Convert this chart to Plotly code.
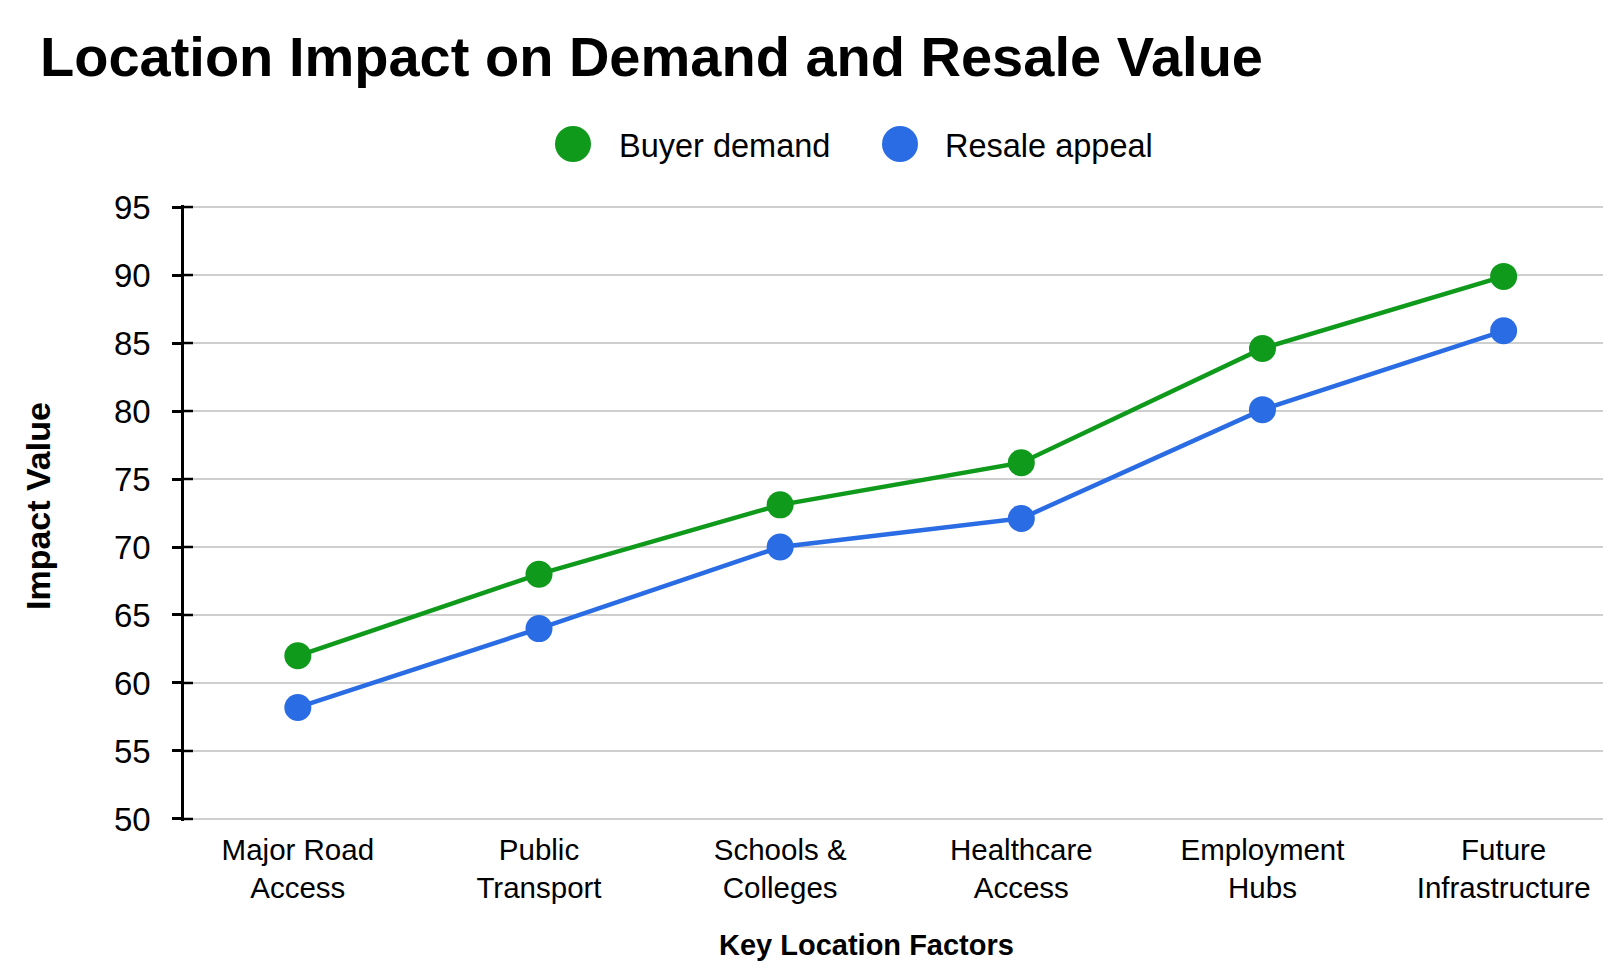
import plotly.graph_objects as go

categories = ["Major Road<br>Access", "Public<br>Transport", "Schools &<br>Colleges",
              "Healthcare<br>Access", "Employment<br>Hubs", "Future<br>Infrastructure"]
buyer_demand = [62.0, 68.0, 73.1, 76.2, 84.6, 89.9]
resale_appeal = [58.2, 64.0, 70.0, 72.1, 80.1, 85.9]
y_ticks = [50, 55, 60, 65, 70, 75, 80, 85, 90, 95]

GREEN = "#0f9a1c"
BLUE = "#2a6ce3"
FONT = "Liberation Sans, Arial, sans-serif"

W, H = 1624, 969
L, R, T, B = 184, 21, 205, 148
PW, PH = W - L - R, H - T - B

def px(x):
    return (x - L) / PW

def py(y):
    return (H - B - y) / PH

xs = list(range(len(categories)))

fig = go.Figure()
fig.add_trace(go.Scatter(x=xs, y=buyer_demand, mode="lines+markers", name="Buyer demand",
                         line=dict(color=GREEN, width=4.5),
                         marker=dict(color=GREEN, size=27), showlegend=False))
fig.add_trace(go.Scatter(x=xs, y=resale_appeal, mode="lines+markers", name="Resale appeal",
                         line=dict(color=BLUE, width=4.5),
                         marker=dict(color=BLUE, size=27), showlegend=False))

fig.update_layout(
    width=W, height=H,
    margin=dict(l=L, r=R, t=T, b=B),
    paper_bgcolor="white", plot_bgcolor="white",
    font=dict(family=FONT, color="black"),
    showlegend=False,
    xaxis=dict(range=[-0.472, 5.412], tickmode="array", tickvals=xs, ticktext=categories,
               showgrid=False, zeroline=False, showline=False, ticks="",
               ticklabelstandoff=8,
               tickfont=dict(size=29.5, family=FONT, color="black")),
    yaxis=dict(range=[49.85, 95.15], tickmode="array", tickvals=y_ticks,
               showgrid=True, gridcolor="#cfcfcf", gridwidth=1.5, zeroline=False,
               showline=True, linecolor="black", linewidth=2.5,
               ticks="outside", ticklen=9, tickwidth=2.5, tickcolor="black",
               ticklabelstandoff=15,
               tickfont=dict(size=33, family=FONT, color="black")),
)

shapes = []
annotations = []
# inside half of the crossing tick marks
for v in y_ticks:
    shapes.append(dict(type="line", xref="paper", yref="y", xsizemode="pixel", xanchor=0,
                       x0=0, x1=9, y0=v, y1=v, line=dict(color="black", width=2.5)))
# title
annotations.append(dict(text="<b>Location Impact on Demand and Resale Value</b>",
                        xref="paper", yref="paper", x=px(38), y=py(56), xanchor="left",
                        yanchor="middle", showarrow=False,
                        font=dict(size=56, family=FONT, color="black")))
# legend
for cx, tx, label, col in [(573, 617, "Buyer demand", GREEN), (900, 943, "Resale appeal", BLUE)]:
    shapes.append(dict(type="circle", xref="paper", yref="paper", xsizemode="pixel",
                       ysizemode="pixel", xanchor=px(cx), yanchor=py(144),
                       x0=-18, x1=18, y0=-18, y1=18, fillcolor=col, line=dict(width=0)))
    annotations.append(dict(text=label, xref="paper", yref="paper", x=px(tx), y=py(146),
                            xanchor="left", yanchor="middle", showarrow=False,
                            font=dict(size=32.5, family=FONT, color="black")))
# axis titles
annotations.append(dict(text="<b>Key Location Factors</b>", xref="paper", yref="paper",
                        x=px(866), y=py(945), xanchor="center", yanchor="middle",
                        showarrow=False, font=dict(size=29, family=FONT, color="black")))
annotations.append(dict(text="<b>Impact Value</b>", xref="paper", yref="paper",
                        x=px(38), y=py(506), xanchor="center", yanchor="middle",
                        textangle=-90, showarrow=False,
                        font=dict(size=34, family=FONT, color="black")))

fig.update_layout(shapes=shapes, annotations=annotations)
fig.write_html("out.html", config={"displayModeBar": False},
               post_script="document.body.style.margin='0';document.body.style.overflow='hidden';")
